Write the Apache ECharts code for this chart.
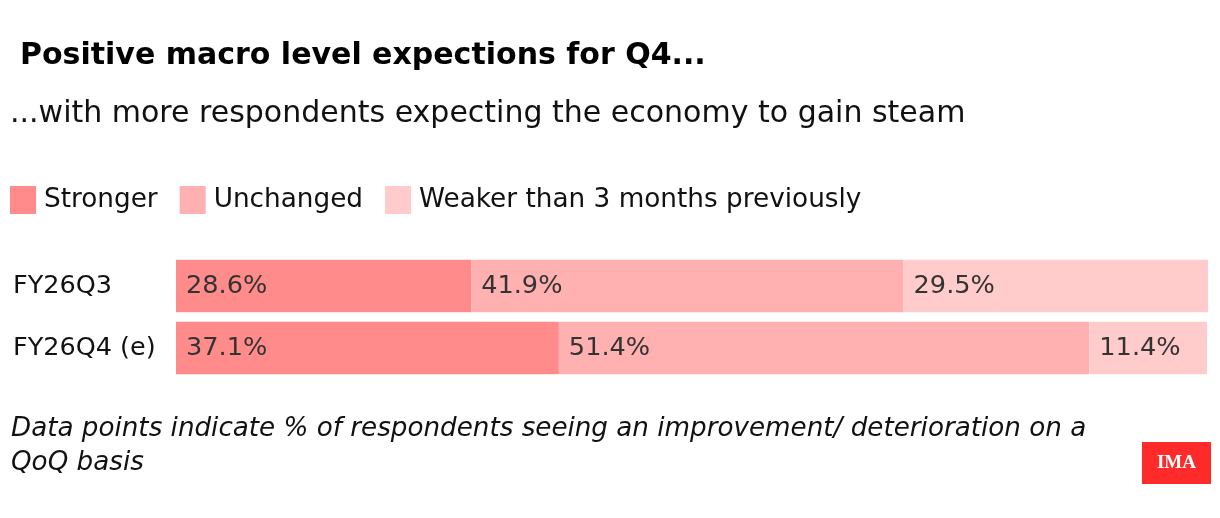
<!DOCTYPE html>
<html>
<head>
<meta charset="utf-8">
<script src="https://cdn.jsdelivr.net/npm/echarts@6/dist/echarts.min.js"></script>
<style>
  html, body { margin: 0; padding: 0; background: #fff; }
  #chart { width: 1220px; height: 518px; }
</style>
</head>
<body>
<div id="chart"></div>
<script>
const periods = ['FY26Q3', 'FY26Q4 (e)'];
const stronger = [28.6, 37.1];
const unchanged = [41.9, 51.4];
const weaker = [29.5, 11.4];
const seriesNames = ['Stronger', 'Unchanged', 'Weaker than 3 months previously'];
const colors = ['#ff8b8b', '#ffb1b1', '#ffcbcb'];

const font = '"DejaVu Sans", "Liberation Sans", sans-serif';

const chart = echarts.init(document.getElementById('chart'));

function barSeries(name, values, color) {
    return {
        name: name,
        type: 'bar',
        stack: 'total',
        data: values,
        barCategoryGap: '15%',
        itemStyle: { color: color },
        label: {
            show: true,
            position: 'insideLeft',
            distance: 10,
            formatter: p => p.value.toFixed(1) + '%',
            color: '#333',
            fontSize: 25.6,
            fontFamily: font
        },
        emphasis: { disabled: true }
    };
}

const option = {
    animation: false,
    title: [
        {
            text: 'Positive macro level expections for Q4...',
            left: 15, top: 36,
            textStyle: { fontSize: 30, fontWeight: 'bold', color: '#000', fontFamily: font }
        },
        {
            text: '...with more respondents expecting the economy to gain steam',
            left: 5, top: 94,
            textStyle: { fontSize: 30, fontWeight: 'normal', color: '#111', fontFamily: font }
        }
    ],
    legend: {
        left: 5, top: 181,
        icon: 'rect',
        itemWidth: 26, itemHeight: 28,
        itemGap: 22,
        selectedMode: false,
        data: seriesNames,
        textStyle: { fontSize: 26.3, color: '#111', fontFamily: font, padding: [0, 0, 0, 3] }
    },
    grid: { left: 176, right: 12, top: 255, height: 124 },
    xAxis: {
        type: 'value', min: 0, max: 100,
        show: false
    },
    yAxis: {
        type: 'category',
        data: periods,
        inverse: true,
        axisLine: { show: false },
        axisTick: { show: false },
        axisLabel: {
            align: 'left',
            margin: 163,
            fontSize: 25.5,
            color: '#111',
            fontFamily: font,
            verticalAlign: 'middle',
            padding: [0, 0, 10, 0]
        }
    },
    series: [
        barSeries(seriesNames[0], stronger, colors[0]),
        barSeries(seriesNames[1], unchanged, colors[1]),
        barSeries(seriesNames[2], weaker, colors[2])
    ],
    graphic: [
        {
            type: 'text', left: 11, top: 412,
            style: {
                text: 'Data points indicate % of respondents seeing an improvement/ deterioration on a\nQoQ basis',
                fontSize: 26.2, fontStyle: 'italic', fill: '#111', fontFamily: font, lineHeight: 34
            }
        },
        {
            type: 'group', left: 1142, top: 442,
            children: [
                { type: 'rect', shape: { x: 0, y: 0, width: 69, height: 42 }, style: { fill: '#ff2a2a' } },
                {
                    type: 'text', x: 34.5, y: 21,
                    style: {
                        text: 'IMA', fill: '#fff', fontSize: 19, fontWeight: 'bold',
                        fontFamily: '"Liberation Serif", "DejaVu Serif", serif',
                        align: 'center', verticalAlign: 'middle'
                    }
                }
            ]
        }
    ]
};

chart.setOption(option);
window.addEventListener('resize', () => chart.resize());
</script>
</body>
</html>
